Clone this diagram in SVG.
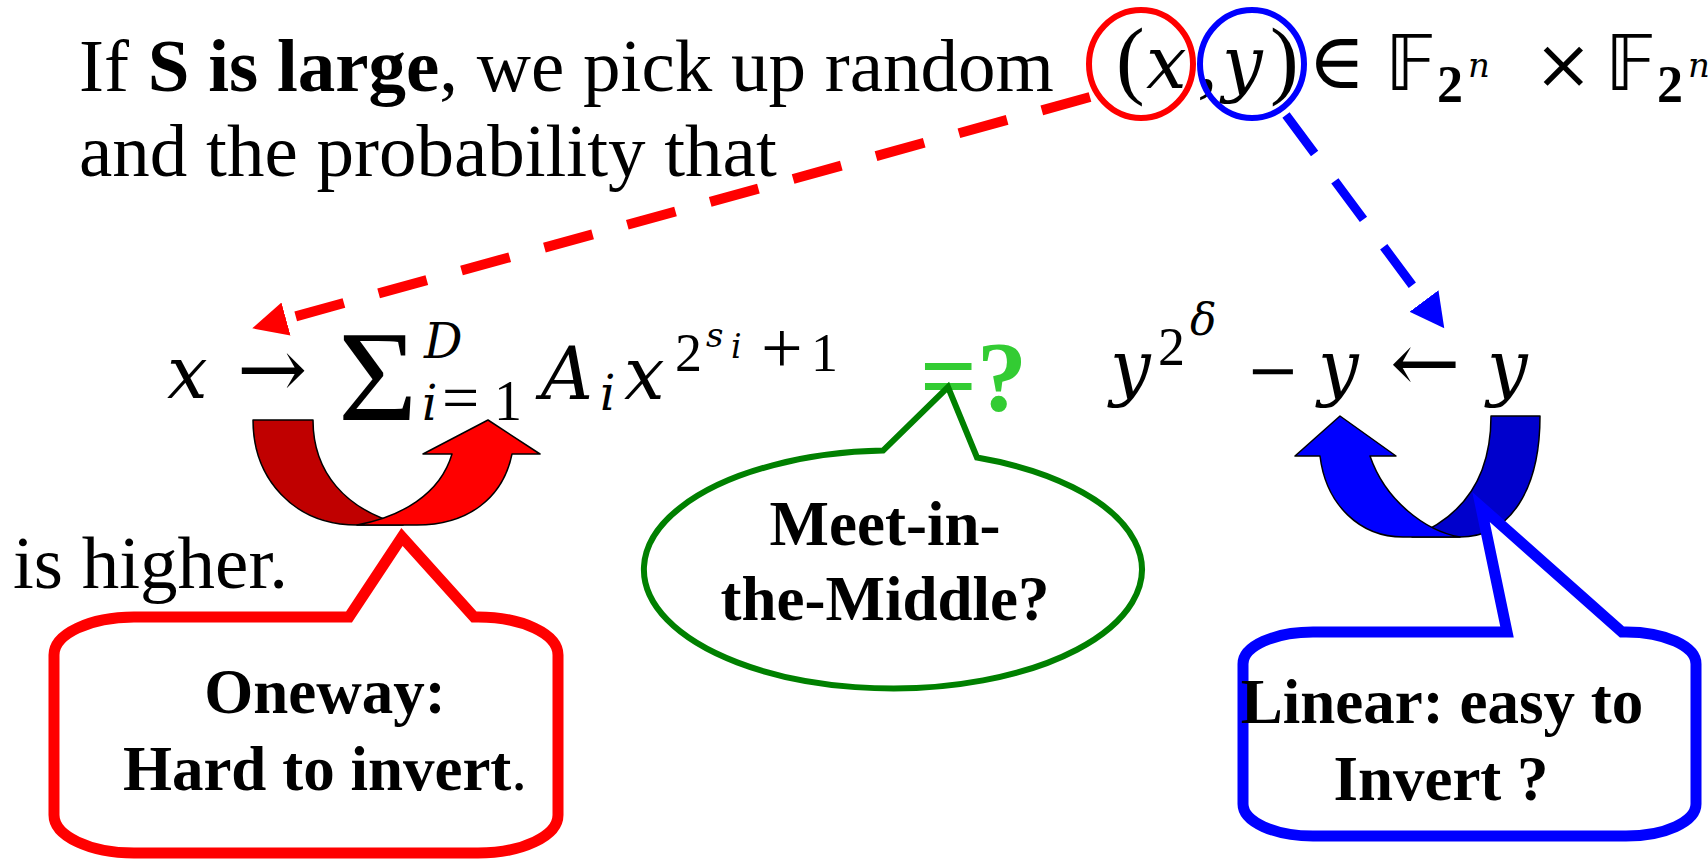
<svg xmlns="http://www.w3.org/2000/svg" width="1708" height="859" viewBox="0 0 1708 859">
<style>
.t{font-family:"Liberation Serif","Times New Roman",serif;fill:#000}
.b{font-weight:bold}
.m{font-family:"DejaVu Serif","Liberation Serif",serif;font-style:italic;fill:#000}
.n{font-family:"Liberation Serif","DejaVu Serif",serif;font-style:normal;fill:#000}
.sym{font-family:"DejaVu Serif","Liberation Serif",serif;fill:#000}
.bb{font-family:"DejaVu Sans","DejaVu Serif","Noto Sans",sans-serif;fill:#000}
.ctr{text-anchor:middle}
.rib{stroke:#000;stroke-width:1.5;stroke-linejoin:round}
</style>
<defs>
<marker id="headRed" markerUnits="userSpaceOnUse" markerWidth="40" markerHeight="40" viewBox="0 -20 40 40" refX="0" refY="0" orient="auto">
<path d="M0,-17 L35,0 L0,17 Z" fill="#FF0000"/>
</marker>
<marker id="headBlue" markerUnits="userSpaceOnUse" markerWidth="40" markerHeight="40" viewBox="0 -20 40 40" refX="0" refY="0" orient="auto">
<path d="M0,-18 L34,0 L0,18 Z" fill="#0000FF"/>
</marker>
</defs>
<rect width="1708" height="859" fill="#fff"/>

<g id="text-intro">
<text class="t" x="79" y="91" font-size="75">If <tspan class="b">S is large</tspan>, we pick up random</text>
<text class="t" x="79" y="176" font-size="75">and the probability that</text>
<text class="t" x="13" y="588" font-size="75">is higher.</text>
</g>

<g id="pair">
<text class="n" x="1116" y="88" font-size="86">(</text>
<text class="m" x="1146" y="88" font-size="72">x</text>
<text class="n" x="1197" y="88" font-size="82">,</text>
<text class="m" x="1222" y="88" font-size="72">y</text>
<text class="n" x="1270" y="88" font-size="86">)</text>
<text class="sym" x="1308" y="88" font-size="78">∈</text>
<text class="bb" x="1385" y="90" font-size="76">𝔽</text>
<text class="n b" x="1437" y="102" font-size="52">2</text>
<text class="m" x="1468" y="77" font-size="34">n</text>
<text class="sym" x="1534" y="88" font-size="70">×</text>
<text class="bb" x="1605" y="90" font-size="76">𝔽</text>
<text class="n b" x="1657" y="102" font-size="52">2</text>
<text class="m" x="1688" y="77" font-size="34">n</text>
<ellipse cx="1141" cy="64" rx="52" ry="54" fill="none" stroke="#FF0000" stroke-width="6"/>
<ellipse cx="1252" cy="64" rx="52" ry="54" fill="none" stroke="#0000FF" stroke-width="6"/>
</g>

<g id="connectors" fill="none">
<line x1="1090" y1="97" x2="286" y2="319" stroke="#FF0000" stroke-width="10" stroke-dasharray="50 36" marker-end="url(#headRed)"/>
<line x1="1286" y1="115" x2="1424" y2="301" stroke="#0000FF" stroke-width="9" stroke-dasharray="48 34" marker-end="url(#headBlue)"/>
</g>

<g id="formula-left">
<text class="m" x="167" y="398" font-size="72">x</text>
<text class="sym" x="237" y="398" font-size="84">→</text>
<text class="n" transform="translate(338,420) scale(1.05,1)" font-size="130">Σ</text>
<text class="m" x="424" y="358" font-size="48">D</text>
<text class="m" x="422" y="420" font-size="48">i</text>
<text class="n" x="442" y="420" font-size="66">=</text>
<text class="n" x="494" y="420" font-size="56">1</text>
<text class="m" x="541" y="399" font-size="72">A</text>
<text class="m" x="600" y="410" font-size="48">i</text>
<text class="m" x="624" y="399" font-size="72">x</text>
<text class="n" x="675" y="371" font-size="54">2</text>
<text class="m" x="706" y="347" font-size="34">s</text>
<text class="m" x="731" y="358" font-size="33">i</text>
<text class="n" x="761" y="373" font-size="74">+</text>
<text class="n" x="811" y="371" font-size="54">1</text>
</g>

<g id="equal-question">
<text class="t b" x="920" y="410" font-size="100" style="fill:#33CC33">=?</text>
</g>

<g id="formula-right">
<text class="m" x="1110" y="392" font-size="72">y</text>
<text class="n" x="1158" y="365" font-size="54">2</text>
<text class="m" x="1190" y="335" font-size="44">δ</text>
<text class="sym" x="1246" y="392" font-size="64">−</text>
<text class="m" x="1318" y="392" font-size="72">y</text>
<text class="sym" x="1390" y="392" font-size="84">←</text>
<text class="m" x="1487" y="392" font-size="72">y</text>
</g>

<g id="uturn-red">
<path class="rib" d="M253,420 H313 C313,472 345,510 403,525 H357 C293,525 253,478 253,420 Z" fill="#C00000"/>
<path class="rib" d="M357,525 C400,517 440,495 452,454 H423 L488,420 L540,454 H512 C503,498 468,525 417,525 Z" fill="#FF0000"/>
</g>

<g id="uturn-blue">
<path class="rib" d="M1540,416 H1491 C1491,472 1468,515 1412,537 H1460 C1510,537 1540,490 1540,416 Z" fill="#0000CC"/>
<path class="rib" d="M1460,537 C1425,531 1385,500 1370,456 H1396 L1340,416 L1295,456 H1320 C1326,505 1360,537 1403,537 Z" fill="#0000FF"/>
</g>

<g id="callout-red">
<path d="M134,617 H349 L402,537 L474,617 H478 A80,38 0 0 1 558,655 V815 A80,38 0 0 1 478,853 H134 A80,38 0 0 1 54,815 V655 A80,38 0 0 1 134,617 Z" fill="#fff" stroke="#FF0000" stroke-width="11"/>
<text class="t b ctr" x="325" y="713" font-size="63">Oneway:</text>
<text class="t b ctr" x="325" y="790" font-size="63">Hard to invert<tspan font-weight="normal">.</tspan></text>
</g>

<g id="callout-green">
<path d="M883,450.6 L948,387 L977,457.5 A249,119 0 1 1 883,450.6 Z" fill="#fff" stroke="#008000" stroke-width="6"/>
<text class="t b ctr" x="885" y="545" font-size="63">Meet-in-</text>
<text class="t b ctr" x="885" y="620" font-size="63">the-Middle?</text>
</g>

<g id="callout-blue">
<path d="M1313,632 H1507 L1481,507 L1622,632 H1626 A70,32 0 0 1 1696,664 V804 A70,32 0 0 1 1626,836 H1313 A70,32 0 0 1 1243,804 V664 A70,32 0 0 1 1313,632 Z" fill="#fff" stroke="#0000FF" stroke-width="11"/>
<text class="t b ctr" x="1442" y="723" font-size="63">Linear: easy to</text>
<text class="t b ctr" x="1441" y="800" font-size="63">Invert ?</text>
</g>
</svg>
